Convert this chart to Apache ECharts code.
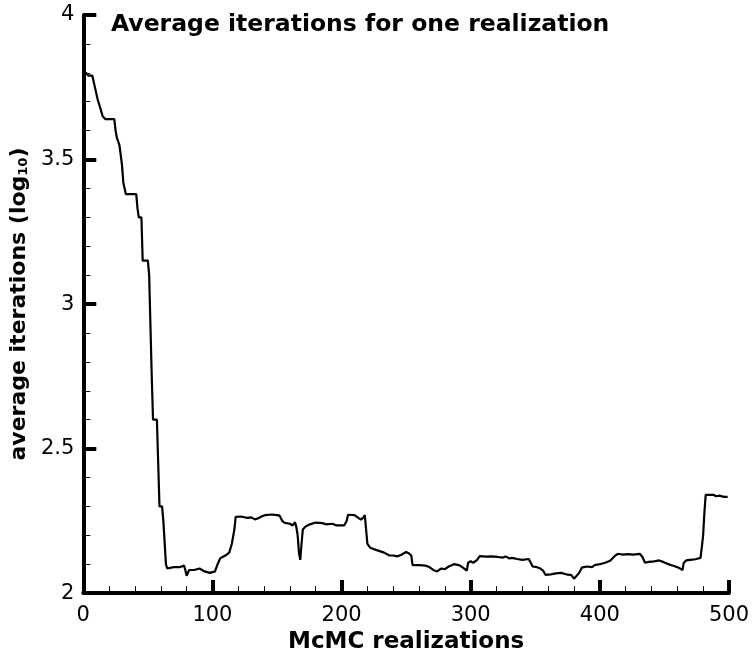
<!DOCTYPE html>
<html>
<head>
<meta charset="utf-8">
<script src="https://cdn.jsdelivr.net/npm/echarts@6/dist/echarts.min.js"></script>
<style>html,body{margin:0;padding:0;background:#fff}#c{width:752px;height:659px}</style>
</head>
<body>
<div id="c"></div>
<script>
const titleText = 'Average iterations for one realization';
const xName = 'McMC realizations';
const xTicks = [0, 100, 200, 300, 400, 500];
const yTicks = [2, 2.5, 3, 3.5, 4];
const realization = [0,2,4,7,9,11,13,15,17,24,25,26,28,30,31,33,41,42,43,45,46,50,51,53,54,57,58,59,61,62,64,65,70,75,78,79,80,82,86,90,94,98,102,104,106,110,113,115,117,118,122,127,130,133,135,138,141,146,150,152,154,156,160,162,164,165,166,167,168,169,170,172,175,180,185,188,193,196,202,204,205,210,213,215,217,218,219,220,222,225,229,233,237,240,243,246,250,252,254,255,260,265,268,271,274,277,280,283,287,291,294,297,298,300,302,305,307,312,316,321,325,327,330,332,336,340,345,346,348,351,354,356,358,362,366,370,374,378,380,381,384,386,390,394,396,400,404,408,412,414,418,422,426,431,433,435,438,442,446,449,452,455,458,461,464,465,467,470,474,478,479,480,481,482,485,488,490,493,496,499];
const avgIter = [3.80,3.80,3.79,3.79,3.75,3.71,3.68,3.65,3.64,3.64,3.60,3.575,3.55,3.48,3.42,3.38,3.38,3.33,3.30,3.30,3.15,3.15,3.10,2.75,2.60,2.60,2.45,2.30,2.30,2.25,2.10,2.085,2.09,2.09,2.095,2.08,2.06,2.08,2.08,2.085,2.075,2.07,2.075,2.10,2.12,2.13,2.14,2.17,2.22,2.264,2.265,2.26,2.262,2.255,2.258,2.265,2.27,2.272,2.27,2.268,2.25,2.243,2.24,2.234,2.245,2.228,2.20,2.14,2.115,2.17,2.22,2.23,2.237,2.244,2.242,2.238,2.24,2.234,2.234,2.25,2.271,2.27,2.26,2.254,2.262,2.27,2.22,2.17,2.158,2.152,2.146,2.14,2.13,2.13,2.127,2.132,2.142,2.138,2.13,2.097,2.097,2.095,2.09,2.08,2.075,2.085,2.083,2.092,2.10,2.097,2.088,2.078,2.105,2.11,2.105,2.115,2.128,2.126,2.127,2.125,2.123,2.127,2.12,2.122,2.118,2.115,2.118,2.115,2.092,2.09,2.085,2.078,2.063,2.065,2.068,2.07,2.065,2.062,2.05,2.047,2.07,2.088,2.092,2.09,2.097,2.10,2.105,2.112,2.13,2.136,2.133,2.135,2.133,2.136,2.125,2.105,2.108,2.11,2.113,2.108,2.102,2.097,2.093,2.088,2.08,2.105,2.113,2.115,2.117,2.122,2.16,2.20,2.28,2.34,2.34,2.34,2.335,2.337,2.333,2.333];

const FONT = '"DejaVu Sans", "Liberation Sans", sans-serif';
const chart = echarts.init(document.getElementById('c'));
const pts = realization.map((x, i) => [x, avgIter[i]]);
chart.setOption({
  animation: false,
  backgroundColor: '#fff',
  title: {
    text: titleText, left: 106, top: 8,
    textStyle: { fontFamily: FONT, fontWeight: 'bold', fontSize: 23.5, color: '#000' }
  },
  grid: { left: 83, top: 15, width: 649, height: 590, containLabel: false },
  xAxis: {
    type: 'value', min: xTicks[0], max: xTicks[xTicks.length - 1], interval: xTicks[1] - xTicks[0],
    name: xName, nameLocation: 'middle', nameGap: 27,
    nameTextStyle: { fontFamily: FONT, fontWeight: 'bold', fontSize: 23, color: '#000' },
    axisLine: { show: true, lineStyle: { color: '#000', width: 4 } },
    axisTick: { show: true, inside: true, length: 13, lineStyle: { color: '#000', width: 4 } },
    minorTick: { show: true, splitNumber: 5, length: 7, lineStyle: { color: '#000', width: 1 } },
    axisLabel: { margin: 12, fontFamily: FONT, fontSize: 21, color: '#000' },
    splitLine: { show: false }
  },
  yAxis: {
    type: 'value', min: yTicks[0], max: yTicks[yTicks.length - 1], interval: yTicks[1] - yTicks[0],
    name: '{t|average iterations (log}{s|10}{t|)}', nameLocation: 'middle', nameGap: 42,
    nameTextStyle: {
      fontFamily: FONT, fontWeight: 'bold', fontSize: 22, color: '#000',
      rich: {
        t: { fontFamily: FONT, fontWeight: 'bold', fontSize: 22, color: '#000' },
        s: { fontFamily: FONT, fontWeight: 'bold', fontSize: 13, color: '#000', verticalAlign: 'bottom', padding: [8, 0, 0, 0] }
      }
    },
    axisLine: { show: true, lineStyle: { color: '#000', width: 4 } },
    axisTick: { show: true, inside: true, length: 13, lineStyle: { color: '#000', width: 4 } },
    minorTick: { show: true, splitNumber: 5, length: 7, lineStyle: { color: '#000', width: 1 } },
    axisLabel: { margin: 9, fontFamily: FONT, fontSize: 21, color: '#000' },
    splitLine: { show: false }
  },
  series: [{
    type: 'line', data: pts, showSymbol: false, symbol: 'none', smooth: false,
    lineStyle: { color: '#000', width: 2.2 }
  }]
});
</script>
</body>
</html>
